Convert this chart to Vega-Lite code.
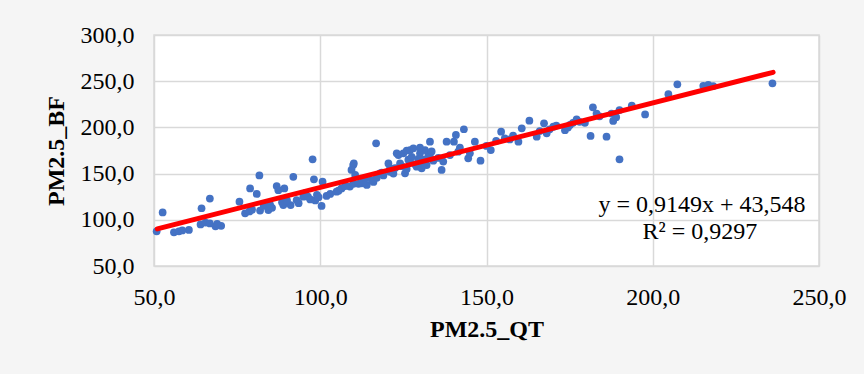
{
  "$schema": "https://vega.github.io/schema/vega-lite/v6.json",
  "width": 665,
  "height": 231,
  "autosize": {"type": "none"},
  "padding": {"left": 154, "top": 35, "right": 45, "bottom": 108},
  "background": "#f5f5f5",
  "config": {
    "view": {"fill": "#ffffff", "stroke": "#d9d9d9", "strokeWidth": 1.5},
    "font": "Liberation Serif"
  },
  "datasets": {
    "points": [
      {"qt": 50.8, "bf": 87.5}, {"qt": 52.6, "bf": 108}, {"qt": 56, "bf": 86.5}, {"qt": 57.5, "bf": 87.5},
      {"qt": 58.5, "bf": 88.5}, {"qt": 60.5, "bf": 89}, {"qt": 64.3, "bf": 112.5}, {"qt": 66.8, "bf": 123},
      {"qt": 64, "bf": 95}, {"qt": 65.5, "bf": 97}, {"qt": 66.8, "bf": 96}, {"qt": 68.5, "bf": 93},
      {"qt": 70.2, "bf": 93.5}, {"qt": 69, "bf": 95.5}, {"qt": 75.7, "bf": 119.6}, {"qt": 77.4, "bf": 107},
      {"qt": 78.7, "bf": 109}, {"qt": 79.5, "bf": 111}, {"qt": 78.9, "bf": 134}, {"qt": 80.9, "bf": 128},
      {"qt": 81.7, "bf": 148}, {"qt": 81.9, "bf": 110}, {"qt": 83, "bf": 115}, {"qt": 84.4, "bf": 110.6},
      {"qt": 85.5, "bf": 113}, {"qt": 86.9, "bf": 136.5}, {"qt": 87.4, "bf": 132}, {"qt": 89.2, "bf": 134},
      {"qt": 88.5, "bf": 119}, {"qt": 91.9, "bf": 146.5}, {"qt": 88.9, "bf": 116}, {"qt": 91.1, "bf": 116},
      {"qt": 90, "bf": 121}, {"qt": 92.9, "bf": 121.4}, {"qt": 93.5, "bf": 118}, {"qt": 84.9, "bf": 116.5},
      {"qt": 94.9, "bf": 125}, {"qt": 96.3, "bf": 125}, {"qt": 95.5, "bf": 129}, {"qt": 97.7, "bf": 165.5},
      {"qt": 98.1, "bf": 143.8}, {"qt": 97, "bf": 122}, {"qt": 98.5, "bf": 121}, {"qt": 99, "bf": 127},
      {"qt": 99.5, "bf": 124.5}, {"qt": 100.7, "bf": 141.2}, {"qt": 100.4, "bf": 115}, {"qt": 101.9, "bf": 125.8},
      {"qt": 103, "bf": 128}, {"qt": 104.9, "bf": 130.4}, {"qt": 106.4, "bf": 134}, {"qt": 105.5, "bf": 131.5},
      {"qt": 107.5, "bf": 136.5}, {"qt": 108.9, "bf": 136}, {"qt": 110, "bf": 139}, {"qt": 109.9, "bf": 159.3},
      {"qt": 110.1, "bf": 161}, {"qt": 109.4, "bf": 154}, {"qt": 110.5, "bf": 148.5}, {"qt": 111.5, "bf": 139},
      {"qt": 112.5, "bf": 139.5}, {"qt": 114, "bf": 137.7}, {"qt": 113, "bf": 142}, {"qt": 113.5, "bf": 145},
      {"qt": 116.8, "bf": 182.8}, {"qt": 115.5, "bf": 143}, {"qt": 117, "bf": 145.5}, {"qt": 116, "bf": 141},
      {"qt": 118, "bf": 150.3}, {"qt": 119, "bf": 148}, {"qt": 118.5, "bf": 151}, {"qt": 120.5, "bf": 161},
      {"qt": 121, "bf": 152}, {"qt": 122, "bf": 150}, {"qt": 121, "bf": 156}, {"qt": 123.5, "bf": 170},
      {"qt": 124, "bf": 161}, {"qt": 125.5, "bf": 150.3}, {"qt": 125, "bf": 172}, {"qt": 126, "bf": 155},
      {"qt": 127, "bf": 175.5}, {"qt": 128, "bf": 177.4}, {"qt": 127, "bf": 163}, {"qt": 129, "bf": 157.5},
      {"qt": 130, "bf": 172}, {"qt": 131.5, "bf": 175.5}, {"qt": 132.5, "bf": 170}, {"qt": 133, "bf": 184.5},
      {"qt": 132, "bf": 159.3}, {"qt": 130.5, "bf": 155.7}, {"qt": 131, "bf": 160}, {"qt": 128.5, "bf": 160},
      {"qt": 122.5, "bf": 156}, {"qt": 124.5, "bf": 158}, {"qt": 126.5, "bf": 165}, {"qt": 127.5, "bf": 168},
      {"qt": 129.5, "bf": 166}, {"qt": 131, "bf": 165}, {"qt": 133, "bf": 168}, {"qt": 133.5, "bf": 174},
      {"qt": 130, "bf": 178}, {"qt": 126, "bf": 175}, {"qt": 123, "bf": 172}, {"qt": 134, "bf": 164},
      {"qt": 135.5, "bf": 167}, {"qt": 136.5, "bf": 154}, {"qt": 137, "bf": 163}, {"qt": 138, "bf": 184.5},
      {"qt": 139, "bf": 170}, {"qt": 140.2, "bf": 184.5}, {"qt": 140.8, "bf": 191.8}, {"qt": 143.2, "bf": 198},
      {"qt": 141.5, "bf": 173.7}, {"qt": 142, "bf": 178}, {"qt": 144.5, "bf": 166.6}, {"qt": 145, "bf": 172},
      {"qt": 146.5, "bf": 184.5}, {"qt": 148.2, "bf": 164}, {"qt": 151.3, "bf": 175.5}, {"qt": 150, "bf": 180},
      {"qt": 152.9, "bf": 185.3}, {"qt": 154.4, "bf": 195.4}, {"qt": 155.5, "bf": 188}, {"qt": 157, "bf": 187},
      {"qt": 158, "bf": 191}, {"qt": 159.6, "bf": 184.5}, {"qt": 160.6, "bf": 199}, {"qt": 162.9, "bf": 207.3},
      {"qt": 165.1, "bf": 190}, {"qt": 166, "bf": 196}, {"qt": 167.3, "bf": 204.4}, {"qt": 168.1, "bf": 193.6},
      {"qt": 169, "bf": 198}, {"qt": 170.1, "bf": 200.8}, {"qt": 171, "bf": 202}, {"qt": 173.6, "bf": 197},
      {"qt": 174.5, "bf": 200}, {"qt": 175.1, "bf": 202.6}, {"qt": 176, "bf": 205}, {"qt": 177.1, "bf": 208.8},
      {"qt": 178, "bf": 206}, {"qt": 179.6, "bf": 205}, {"qt": 181.3, "bf": 190.7}, {"qt": 182, "bf": 221.7},
      {"qt": 183.1, "bf": 215}, {"qt": 184, "bf": 212}, {"qt": 186.1, "bf": 190}, {"qt": 187.6, "bf": 215},
      {"qt": 188.1, "bf": 207}, {"qt": 189, "bf": 211}, {"qt": 190, "bf": 165.5}, {"qt": 190, "bf": 218.8},
      {"qt": 193.7, "bf": 223.5}, {"qt": 197.7, "bf": 214}, {"qt": 204.7, "bf": 236}, {"qt": 207.4, "bf": 246.6},
      {"qt": 215.2, "bf": 245}, {"qt": 216.7, "bf": 245.9}, {"qt": 218.2, "bf": 244.8}, {"qt": 236, "bf": 247.7}
    ],
    "trend": [
      {"qt": 51, "bf": 90.2},
      {"qt": 236.2, "bf": 259.6}
    ],
    "notes": [
      {"qt": 214.8, "bf": 116, "label": "y = 0,9149x + 43,548"},
      {"qt": 214.2, "bf": 86.8, "label": "R² = 0,9297"}
    ]
  },
  "layer": [
    {
      "data": {"name": "points"},
      "mark": {"type": "circle", "size": 60, "color": "#4472C4", "opacity": 1},
      "encoding": {
        "x": {
          "field": "qt", "type": "quantitative",
          "scale": {"domain": [50, 250], "nice": false, "zero": false},
          "axis": {
            "title": "PM2.5_QT",
            "values": [50, 100, 150, 200, 250],
            "labelExpr": "replace(format(datum.value, '.1f'), '.', ',')",
            "grid": true, "gridColor": "#d9d9d9", "gridWidth": 1.5,
            "domain": false, "ticks": false,
            "labelFlush": false, "labelOverlap": false,
            "labelFont": "Liberation Serif", "labelFontSize": 24, "labelColor": "#000000", "labelPadding": 19,
            "titleFont": "Liberation Serif", "titleFontSize": 24, "titleFontWeight": "bold", "titleColor": "#000000", "titlePadding": 8
          }
        },
        "y": {
          "field": "bf", "type": "quantitative",
          "scale": {"domain": [50, 300], "nice": false, "zero": false},
          "axis": {
            "title": "PM2.5_BF",
            "values": [50, 100, 150, 200, 250, 300],
            "labelExpr": "replace(format(datum.value, '.1f'), '.', ',')",
            "grid": true, "gridColor": "#d9d9d9", "gridWidth": 1.5,
            "domain": false, "ticks": false,
            "labelFlush": false, "labelOverlap": false,
            "labelFont": "Liberation Serif", "labelFontSize": 24, "labelColor": "#000000", "labelPadding": 20,
            "titleFont": "Liberation Serif", "titleFontSize": 24, "titleFontWeight": "bold", "titleColor": "#000000", "titlePadding": 12
          }
        }
      }
    },
    {
      "data": {"name": "trend"},
      "mark": {"type": "line", "color": "#FF0000", "strokeWidth": 5, "strokeCap": "round"},
      "encoding": {
        "x": {"field": "qt", "type": "quantitative"},
        "y": {"field": "bf", "type": "quantitative"}
      }
    },
    {
      "data": {"name": "notes"},
      "mark": {"type": "text", "font": "Liberation Serif", "fontSize": 24, "align": "center", "baseline": "middle", "color": "#000000"},
      "encoding": {
        "x": {"field": "qt", "type": "quantitative"},
        "y": {"field": "bf", "type": "quantitative"},
        "text": {"field": "label", "type": "nominal"}
      }
    }
  ]
}
